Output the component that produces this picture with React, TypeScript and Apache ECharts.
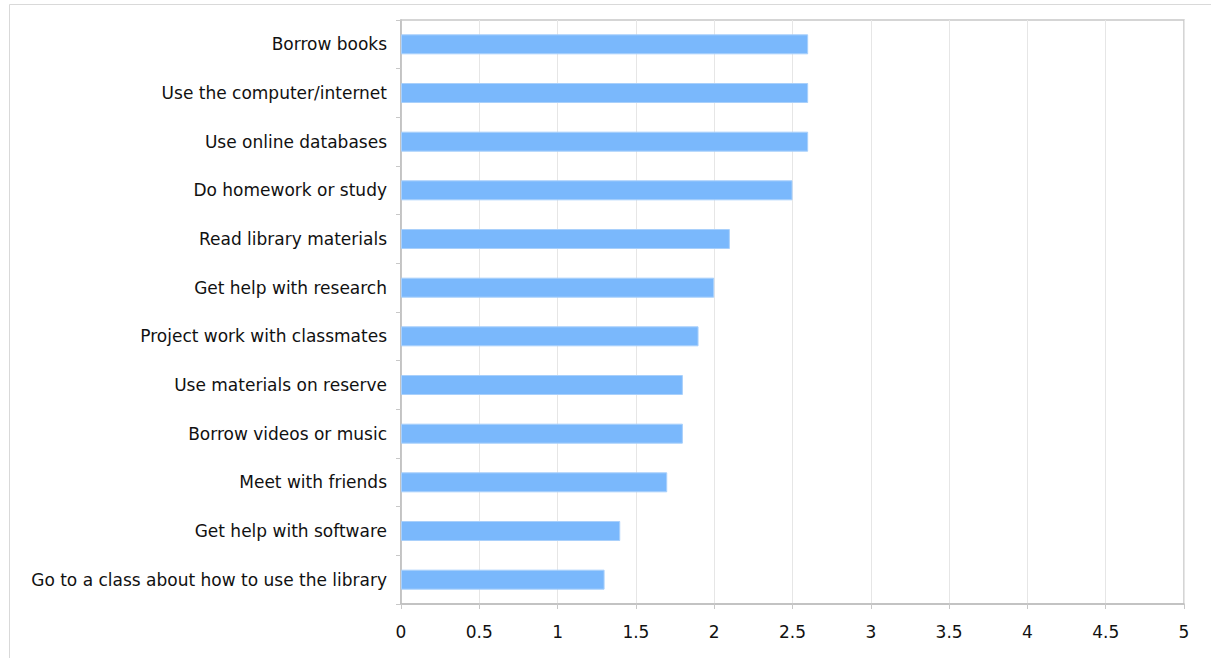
import React, { useEffect, useRef } from "react";
import * as echarts from "echarts";

const categories = [
  "Borrow books",
  "Use the computer/internet",
  "Use online databases",
  "Do homework or study",
  "Read library materials",
  "Get help with research",
  "Project work with classmates",
  "Use materials on reserve",
  "Borrow videos or music",
  "Meet with friends",
  "Get help with software",
  "Go to a class about how to use the library",
];
const values = [2.6, 2.6, 2.6, 2.5, 2.1, 2.0, 1.9, 1.8, 1.8, 1.7, 1.4, 1.3];

export default function App() {
  const ref = useRef<HTMLDivElement>(null);
  useEffect(() => {
    if (!ref.current) return;
    const chart = echarts.init(ref.current, null, { renderer: "svg" });
    const font = "'DejaVu Sans', Verdana, sans-serif";
    chart.setOption({
      animation: false,
      backgroundColor: "#fff",
      graphic: [
        {
          type: "rect",
          shape: { x: 9.5, y: 4.5, width: 1300, height: 700 },
          style: { fill: "none", stroke: "#d9d9d9", lineWidth: 1 },
          silent: true,
        },
      ],
      grid: {
        left: 401,
        top: 20,
        right: 27,
        bottom: 54,
        show: true,
        borderColor: "#c8c8c8",
        borderWidth: 1.5,
        backgroundColor: "transparent",
      },
      xAxis: {
        type: "value",
        min: 0,
        max: 5,
        interval: 0.5,
        axisLine: { show: true, lineStyle: { color: "#bdbdbd", width: 1.5 } },
        axisTick: { show: true, length: 5, lineStyle: { color: "#c8c8c8" } },
        splitLine: { show: true, lineStyle: { color: "#e6e6e6", width: 1 } },
        axisLabel: { color: "#111", fontSize: 17, fontFamily: font, margin: 19 },
      },
      yAxis: {
        type: "category",
        inverse: true,
        data: categories,
        axisLine: { show: true, lineStyle: { color: "#bdbdbd", width: 1.5 } },
        axisTick: { show: true, length: 5, lineStyle: { color: "#c8c8c8" } },
        axisLabel: { color: "#111", fontSize: 17, fontFamily: font, margin: 14 },
      },
      series: [
        {
          type: "bar",
          data: values,
          barWidth: 20,
          itemStyle: { color: "#7ab8fc", borderColor: "#a9d0fb", borderWidth: 1 },
        },
      ],
    });
    return () => chart.dispose();
  }, []);
  return (
    <div
      ref={ref}
      style={{ position: "fixed", left: 0, top: 0, width: 1211, height: 658 }}
    />
  );
}
